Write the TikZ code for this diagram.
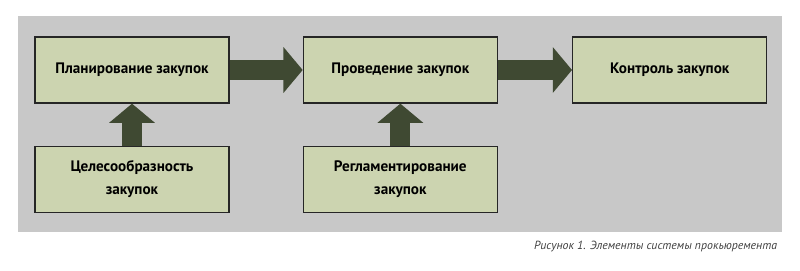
\documentclass[tikz,border=0pt]{standalone}
\usepackage{fontspec}
\setmainfont{PT Sans}
\usepackage{xcolor}
\usetikzlibrary{positioning, arrows.meta}

\definecolor{boxfill}{RGB}{204,212,176}
\definecolor{arrowgreen}{RGB}{63,73,50}
\definecolor{panelgray}{RGB}{200,200,200}

\begin{document}
\begin{tikzpicture}[
    x=0.025cm, y=-0.025cm,
    node distance=1.825cm,
    stage/.style={rectangle, draw=black!85, line width=0.9pt, fill=boxfill, minimum width=4.85cm, minimum height=1.65cm, align=center, font=\bfseries\fontsize{10.8}{16.5}\selectfont},
    flow/.style={draw=arrowgreen, line width=0.5cm, -{Triangle[length=0.48cm, width=1.12cm, fill=arrowgreen]}},
]
    \useasboundingbox (0,0) rectangle (800,270);
    \fill[panelgray] (18,16) rectangle (782,232);

    \node[stage] (plan) at (132,70) {Планирование закупок};
    \node[stage, right=of plan] (conduct) {Проведение закупок};
    \node[stage, right=1.85cm of conduct] (control) {Контроль закупок};
    \node[stage, below=1.05cm of plan] (purpose) {Целесообразность\\закупок};
    \node[stage, below=1.05cm of conduct] (rules) {Регламентирование\\закупок};

    \draw[flow] (plan) -- (conduct);
    \draw[flow] (conduct) -- (control);
    \draw[flow] (purpose) -- (plan);
    \draw[flow] (rules) -- (conduct);

    \node[anchor=base east, font=\itshape\fontsize{8.4}{10}\selectfont, text=black!75] (caption) at (782,249) {Рисунок 1. Элементы системы прокьюремента};
\end{tikzpicture}
\end{document}
